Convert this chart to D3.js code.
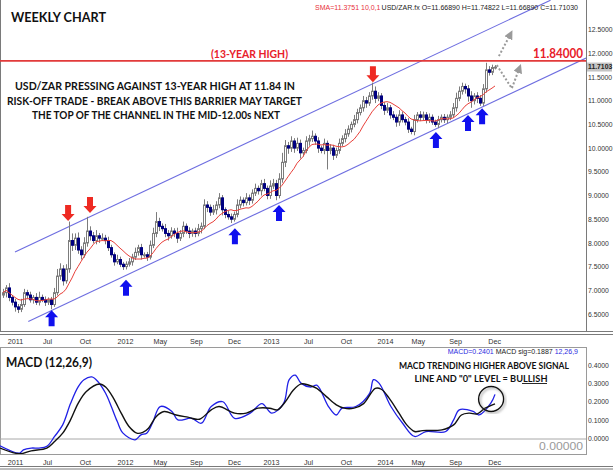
<!DOCTYPE html>
<html>
<head>
<meta charset="utf-8">
<script src="https://cdn.jsdelivr.net/npm/d3@7"></script>
<style>
  body { margin: 0; background: #fff; }
  svg { display: block; font-family: "Liberation Sans", Arial, sans-serif; }
</style>
</head>
<body>
<div id="chart"></div>
<script>
// weekly closes, one per bar (open = previous close)
const first_open = 6.90
const closes = [
  6.95, 7.05, 6.85, 6.75, 6.65, 6.60, 6.70, 6.95, 6.90, 6.80,
  6.85, 6.75, 6.85, 6.80, 6.75, 6.80, 6.70, 6.95, 7.30, 7.45,
  7.20, 7.45, 8.05, 7.95, 8.10, 7.85, 7.75, 8.00, 8.25, 8.15,
  8.05, 8.15, 8.10, 8.10, 8.05, 7.90, 7.75, 7.60, 7.65, 7.55,
  7.50, 7.55, 7.60, 7.70, 7.80, 7.90, 7.75, 7.75, 7.70, 7.95,
  8.20, 8.45, 8.35, 8.30, 8.20, 8.15, 8.25, 8.20, 8.10, 8.20,
  8.35, 8.25, 8.20, 8.25, 8.20, 8.30, 8.35, 8.80, 8.75, 8.65,
  8.70, 8.80, 8.95, 8.70, 8.60, 8.55, 8.50, 8.60, 8.80, 8.90,
  8.85, 8.95, 8.90, 9.05, 9.15, 9.10, 9.25, 9.15, 9.00, 9.20,
  9.25, 9.00, 9.35, 9.70, 10.05, 10.00, 10.15, 10.00, 10.10, 9.90,
  9.95, 10.15, 10.20, 10.25, 10.15, 10.00, 9.95, 10.10, 9.95, 10.00,
  9.85, 9.95, 10.10, 10.20, 10.30, 10.40, 10.50, 10.60, 10.75, 10.85,
  11.00, 10.95, 11.10, 11.20, 11.05, 11.10, 10.90, 10.80, 10.85, 10.70,
  10.65, 10.55, 10.70, 10.60, 10.55, 10.40, 10.35, 10.60, 10.70, 10.65,
  10.70, 10.60, 10.65, 10.55, 10.50, 10.60, 10.65, 10.60, 10.65, 10.70,
  10.85, 11.05, 11.20, 11.30, 11.25, 11.10, 11.00, 11.10, 11.05, 10.95,
  11.25, 11.65, 11.60, 11.70, 11.7103
]
// wick length above / below the body
const up_wick = [
  .08, .06, .10, .05, .07, .06, .12, .08, .06, .07,
  .05, .09, .12, .06, .07, .05, .06, .10, .15, .12,
  .08, .10, .40, .15, .10, .12, .08, .12, .30, .10,
  .08, .12, .06, .10, .07, .08, .06, .05, .10, .06,
  .05, .06, .08, .07, .10, .06, .08, .05, .06, .10,
  .12, .20, .08, .06, .10, .07, .08, .06, .12, .07,
  .10, .06, .08, .05, .07, .10, .08, .12, .08, .06,
  .10, .08, .10, .06, .05, .08, .07, .06, .12, .08,
  .06, .10, .07, .08, .10, .06, .08, .10, .06, .12,
  .10, .08, .12, .20, .12, .08, .10, .06, .12, .08,
  .06, .10, .08, .12, .06, .08, .05, .10, .06, .08,
  .07, .06, .10, .07, .10, .08, .06, .10, .08, .07,
  .10, .08, .08, .18, .10, .08, .06, .07, .10, .06,
  .08, .06, .10, .07, .06, .08, .05, .10, .06, .08,
  .07, .06, .08, .06, .05, .08, .06, .07, .06, .08,
  .10, .12, .10, .08, .06, .08, .10, .06, .08, .07,
  .10, .15, .08, .06, .04
]
const down_wick = [
  .06, .10, .08, .07, .10, .08, .06, .05, .08, .06,
  .08, .06, .07, .05, .08, .06, .10, .05, .06, .08,
  .10, .06, .08, .12, .10, .08, .10, .06, .08, .10,
  .06, .08, .10, .06, .08, .07, .06, .08, .05, .06,
  .07, .06, .05, .08, .06, .07, .10, .06, .08, .05,
  .06, .08, .10, .06, .08, .10, .06, .08, .10, .06,
  .08, .06, .10, .07, .08, .06, .10, .06, .10, .08,
  .06, .10, .07, .12, .08, .06, .08, .05, .06, .07,
  .08, .06, .10, .07, .06, .08, .10, .06, .08, .07,
  .06, .10, .06, .08, .10, .12, .08, .10, .06, .12,
  .08, .06, .10, .07, .08, .10, .06, .08, .40, .08,
  .10, .06, .07, .06, .08, .06, .07, .06, .08, .06,
  .08, .10, .06, .08, .10, .06, .08, .10, .06, .08,
  .06, .10, .08, .06, .07, .08, .06, .08, .06, .08,
  .06, .08, .07, .06, .05, .08, .06, .07, .08, .06,
  .06, .08, .06, .07, .10, .12, .15, .08, .10, .06,
  .06, .08, .07, .06, .04
]

const tick_bars = [4, 14.7, 27.3, 40.7, 52.3, 64.3, 77, 89.3, 101.7, 114.3, 127.3, 138.3, 150.7, 163.7]
const tick_labels = ["2011", "Jul", "Oct", "2012", "May", "Sep", "Dec", "2013", "Jul", "Oct", "2014", "May", "Sep", "Dec"]
const price_ticks = [6.5, 7, 7.5, 8, 8.5, 9, 9.5, 10, 10.5, 11, 11.5, 12, 12.5]

const resistance = 11.84
const last_price = 11.7103

// channel lines as [bar, price]
const channel_upper = [[4, 7.81], [182.5, 13.12]]
const channel_lower = [[8.43, 6.34], [194.33, 11.9]]

// arrow tips as [bar, price]
const down_arrows = [[21.7, 8.46], [29, 8.63], [123.3, 11.39]]
const up_arrows = [[16.2, 6.58], [41, 7.22], [77.3, 8.31], [92, 8.80], [144.3, 10.34], [155, 10.70], [159.7, 10.84]]
const path_breakout = [[165.3, 11.94], [168.7, 12.35]]
const path_retest = [[164.6, 11.75], [169.6, 11.26], [171.8, 11.63]]

// MACD (12,26,9)
const macd_bars = [-1, 5.5, 6.8, 9.4, 12, 14.6, 17.2, 19.9, 22.5, 25, 27, 29.6, 31.6, 34.2, 36.1, 38.1, 40, 44, 46, 47.9,
  49.8, 52.4, 56.3, 58.3, 62.9, 66.1, 69.4, 73.3, 77.2, 82.4, 86.3, 89.6, 93.5, 95.4, 97.4, 99.4, 102.6, 104.6, 108.5, 111.1,
  113, 117.6, 122.2, 123.5, 125.4, 129.3, 133.2, 137.2, 141, 147.6, 150.2, 152.1, 156.7, 158.7, 162.6, 164]
const macd_values = [-0.04, -0.08, -0.062, -0.052, -0.052, -0.043, 0.011, 0.074, 0.19, 0.28, 0.32, 0.335, 0.31, 0.246, 0.174, 0.092, 0.029, -0.007, 0.02, 0.029,
  0.083, 0.174, 0.147, 0.101, 0.11, 0.083, 0.174, 0.2, 0.11, 0.138, 0.19, 0.138, 0.19, 0.32, 0.345, 0.30, 0.28, 0.29, 0.174, 0.128,
  0.165, 0.174, 0.246, 0.32, 0.30, 0.174, 0.083, 0.011, 0.038, 0.038, 0.101, 0.156, 0.147, 0.128, 0.192, 0.2401]
const signal_bars = [-1, 5.5, 9.4, 14.6, 17.2, 19.9, 22.5, 25, 27.7, 32.2, 34.2, 36.8, 39.4, 42, 44.6, 46.6, 48.5, 51.1, 53.7, 57.7,
  61.6, 65.5, 69.4, 72, 77.2, 81.1, 85, 88.9, 91.5, 94.1, 96.8, 99.4, 102, 104.6, 107.8, 111.1, 113.7, 117, 120.2, 124.1,
  126.1, 128.7, 132, 134.6, 137.2, 139.8, 146.3, 150.2, 152.8, 155.4, 158.1, 160.7, 164]
const signal_values = [-0.052, -0.083, -0.067, -0.052, -0.016, 0.029, 0.101, 0.19, 0.255, 0.297, 0.28, 0.22, 0.138, 0.065, 0.029, 0.033, 0.056, 0.12, 0.147, 0.128,
  0.116, 0.105, 0.156, 0.174, 0.138, 0.138, 0.165, 0.165, 0.156, 0.2, 0.264, 0.297, 0.29, 0.273, 0.228, 0.183, 0.165, 0.165, 0.19, 0.273,
  0.268, 0.22, 0.138, 0.074, 0.038, 0.043, 0.047, 0.074, 0.128, 0.138, 0.134, 0.165, 0.1887]
const macd_ticks = [0, 0.1, 0.2, 0.3, 0.4]
const macd_circle = [162.7, 0.215]

const width = 613, height = 470
const axis_x = 586

const svg = d3.select("#chart").append("svg")
    .attr("width", width)
    .attr("height", height)

const x = d3.scaleLinear().domain([0, 194.33]).range([3, axis_x])
const y = d3.scaleLinear().domain([6.5, 12.5]).range([314, 29.6])
const y_macd = d3.scaleLinear().domain([0, 0.4]).range([438.5, 365])

const defs = svg.append("defs")
defs.append("clipPath").attr("id", "main-clip")
    .append("rect").attr("x", 0).attr("y", 0).attr("width", axis_x).attr("height", 331)
defs.append("clipPath").attr("id", "macd-clip")
    .append("rect").attr("x", 0).attr("y", 348).attr("width", axis_x).attr("height", 106)
defs.append("marker")
    .attr("id", "head")
    .attr("viewBox", "0 0 10 10")
    .attr("refX", 2).attr("refY", 5)
    .attr("markerWidth", 4.5).attr("markerHeight", 4.5)
    .attr("orient", "auto")
    .append("path").attr("d", "M0,0 L10,5 L0,10 Z").attr("fill", "#9a9a9a")
defs.append("filter").attr("id", "shadow")
    .append("feDropShadow").attr("dx", 1.5).attr("dy", 1.5).attr("stdDeviation", 1.2).attr("flood-color", "#888").attr("flood-opacity", 0.8)

// frames
const frame = svg.append("g").attr("stroke", "#7a7a7a").attr("stroke-width", 1).attr("fill", "none")
frame.append("path").attr("d", `M0.5,0 V331 M${axis_x + 0.5},0 V331`)
frame.append("path").attr("d", `M0,331.5 H${width} M0,334.5 H${width}`)
frame.append("path").attr("d", `M0.5,347.5 H${axis_x + 0.5} M0.5,347 V455 M${axis_x + 0.5},347 V455 M0,454.5 H${axis_x + 0.5}`).attr("stroke", "#9a9a9a")
frame.append("path").attr("d", `M0,466.5 H${width} M0,469 H${width}`)

// ---------- price panel ----------
const main = svg.append("g").attr("clip-path", "url(#main-clip)")

const line_xy = d3.line().x(d => x(d[0])).y(d => y(d[1]))

main.append("path").datum(channel_upper)
    .attr("d", line_xy).attr("stroke", "#6e6ee0").attr("stroke-width", 1.1).attr("fill", "none")
main.append("path").datum(channel_lower)
    .attr("d", line_xy).attr("stroke", "#6e6ee0").attr("stroke-width", 1.1).attr("fill", "none")

main.append("line")
    .attr("x1", 0).attr("x2", axis_x)
    .attr("y1", y(resistance)).attr("y2", y(resistance))
    .attr("stroke", "#e23a3a").attr("stroke-width", 1.6)

const candles = closes.map((close, i) => {
    const open = i === 0 ? first_open : closes[i - 1]
    return {
        i, open, close,
        high: Math.max(open, close) + up_wick[i],
        low: Math.min(open, close) - down_wick[i]
    }
})

const sma = closes.map((c, i) => [i, d3.mean(closes.slice(Math.max(0, i - 9), i + 1))])

const bars = main.append("g")
bars.selectAll("line")
    .data(candles)
    .join("line")
    .attr("x1", d => Math.round(x(d.i)) + 0.5)
    .attr("x2", d => Math.round(x(d.i)) + 0.5)
    .attr("y1", d => y(d.high))
    .attr("y2", d => y(d.low))
    .attr("stroke", "#7c7c7c")
bars.selectAll("rect")
    .data(candles)
    .join("rect")
    .attr("x", d => Math.round(x(d.i)) - 0.5)
    .attr("width", 2)
    .attr("y", d => y(Math.max(d.open, d.close)))
    .attr("height", d => Math.max(1, Math.abs(y(d.open) - y(d.close))))
    .attr("fill", d => d.close >= d.open ? "#ffffff" : "#000080")
    .attr("stroke", d => d.close >= d.open ? "#7c7c7c" : "#000080")

main.append("path").datum(sma)
    .attr("d", line_xy).attr("fill", "none").attr("stroke", "#e8403a").attr("stroke-width", 1)

// block arrows
const arrow_down = "M-3,-16 L3,-16 L3,-7 L6.5,-7 L0,0 L-6.5,-7 L-3,-7 Z"
const arrow_up = "M-3,16 L3,16 L3,7 L6.5,7 L0,0 L-6.5,7 L-3,7 Z"
main.selectAll(".down-arrow")
    .data(down_arrows)
    .join("path")
    .attr("class", "down-arrow")
    .attr("d", arrow_down)
    .attr("transform", d => `translate(${x(d[0])},${y(d[1])})`)
    .attr("fill", "#ee2a22")
main.selectAll(".up-arrow")
    .data(up_arrows)
    .join("path")
    .attr("class", "up-arrow")
    .attr("d", arrow_up)
    .attr("transform", d => `translate(${x(d[0])},${y(d[1])})`)
    .attr("fill", "#1010ee")

// dotted projection arrows
main.append("path").datum(path_breakout)
    .attr("d", line_xy).attr("fill", "none").attr("stroke", "#9a9a9a").attr("stroke-width", 2)
    .attr("stroke-dasharray", "2,2").attr("marker-end", "url(#head)")
main.append("path").datum(path_retest)
    .attr("d", line_xy).attr("fill", "none").attr("stroke", "#9a9a9a").attr("stroke-width", 2)
    .attr("stroke-dasharray", "2,2").attr("marker-end", "url(#head)")

// price axis
const axis_font = (g) => g.selectAll("text")
    .attr("font-size", "6.8px").attr("fill", "#333").attr("font-family", "Liberation Sans, Arial")

const price_axis = svg.append("g")
    .attr("transform", `translate(${axis_x}, 0)`)
    .call(d3.axisRight(y).tickValues(price_ticks).tickFormat(d3.format(".4f")).tickSize(0).tickPadding(2))
price_axis.select(".domain").remove()
price_axis.call(axis_font)

svg.append("rect")
    .attr("x", axis_x + 1).attr("y", y(last_price) - 4.5)
    .attr("width", 25).attr("height", 9)
    .attr("fill", "#c4c4c4")
svg.append("text")
    .attr("x", axis_x + 2).attr("y", y(last_price)).attr("dy", "0.32em")
    .attr("font-size", "6.8px").attr("font-weight", "bold").attr("fill", "#222")
    .text(last_price.toFixed(4))

// time axes
const time_axis = (g) => {
    g.call(d3.axisBottom(x).tickValues(tick_bars).tickFormat((d, i) => tick_labels[i]).tickSize(0).tickPadding(2))
    g.select(".domain").remove()
    g.selectAll("text").attr("font-size", "7.2px").attr("fill", "#333").attr("font-family", "Liberation Sans, Arial")
}
svg.append("g").attr("transform", "translate(0, 337)").call(time_axis)
svg.append("g").attr("transform", "translate(0, 457.5)").call(time_axis)

// ---------- MACD panel ----------
const macd = svg.append("g").attr("clip-path", "url(#macd-clip)")
macd.append("line")
    .attr("x1", 0).attr("x2", axis_x)
    .attr("y1", y_macd(0) + 0.5).attr("y2", y_macd(0) + 0.5)
    .attr("stroke", "#a8a8a8")

const macd_line = d3.line()
    .x(d => x(d[0]))
    .y(d => y_macd(d[1]))
    .curve(d3.curveCatmullRom.alpha(0.5))

macd.append("path")
    .datum(macd_bars.map((b, i) => [b, macd_values[i]]))
    .attr("d", macd_line).attr("fill", "none").attr("stroke", "#2020e6").attr("stroke-width", 1.3)
macd.append("path")
    .datum(signal_bars.map((b, i) => [b, signal_values[i]]))
    .attr("d", macd_line).attr("fill", "none").attr("stroke", "#111").attr("stroke-width", 1.4)

svg.append("circle")
    .attr("cx", x(macd_circle[0])).attr("cy", y_macd(macd_circle[1])).attr("r", 12.5)
    .attr("fill", "none").attr("stroke", "#111").attr("stroke-width", 1.4)
    .attr("filter", "url(#shadow)")

const macd_axis = svg.append("g")
    .attr("transform", `translate(${axis_x}, 0)`)
    .call(d3.axisRight(y_macd).tickValues(macd_ticks).tickFormat(d3.format(".4f")).tickSize(0).tickPadding(2))
macd_axis.select(".domain").remove()
macd_axis.call(axis_font)

// ---------- texts ----------
const bold_font = "Lato, 'Open Sans', sans-serif"
const add_text = (txt, px, py, size, opts = {}) => {
    const t = svg.append("text")
        .attr("x", px).attr("y", py)
        .attr("font-size", size + "px")
        .attr("font-family", opts.family ?? bold_font)
        .attr("font-weight", opts.weight ?? "bold")
        .attr("fill", opts.fill ?? "#111")
        .attr("text-anchor", opts.anchor ?? "start")
        .text(txt)
    if (opts.len) t.attr("textLength", opts.len).attr("lengthAdjust", "spacingAndGlyphs")
    return t
}

add_text("WEEKLY CHART", 11, 22, 14, { len: 95 })
add_text("(13-YEAR HIGH)", 211, 57.5, 11, { fill: "#e8202a", len: 77 })
add_text("11.84000", 533, 57.5, 12.5, { fill: "#e8202a", len: 50 })

add_text("USD/ZAR PRESSING AGAINST 13-YEAR HIGH AT 11.84 IN", 15, 89.5, 10.5, { len: 280 })
add_text("RISK-OFF TRADE - BREAK ABOVE THIS BARRIER MAY TARGET", 7, 104.5, 10.5, { len: 295 })
add_text("THE TOP OF THE CHANNEL IN THE MID-12.00s NEXT", 32, 118.5, 10.5, { len: 248 })

svg.append("text")
    .attr("x", 315).attr("y", 9.5)
    .attr("font-size", "7px")
    .attr("font-family", "Liberation Sans, Arial")
    .attr("fill", "#e8303a")
    .text("SMA=11.3751  10,0,1")
svg.append("text")
    .attr("x", 578).attr("y", 9.5)
    .attr("text-anchor", "end")
    .attr("font-size", "7px")
    .attr("font-family", "Liberation Sans, Arial")
    .attr("fill", "#222")
    .text("USD/ZAR.fx O=11.66890 H=11.74822 L=11.66890 C=11.71030")

const macd_header = svg.append("text")
    .attr("x", 578).attr("y", 354)
    .attr("text-anchor", "end")
    .attr("font-size", "7px")
    .attr("font-family", "Liberation Sans, Arial")
macd_header.append("tspan").attr("fill", "#2a2ae0").text("MACD=0.2401 ")
macd_header.append("tspan").attr("fill", "#222").text("MACD sig=0.1887  ")
macd_header.append("tspan").attr("fill", "#2a2ae0").text("12,26,9")

add_text("MACD (12,26,9)", 6, 367, 13, { len: 86 })
add_text("MACD TRENDING HIGHER ABOVE SIGNAL", 484, 368.5, 8.5, { anchor: "middle", len: 170 })
add_text('LINE AND "0" LEVEL = BULLISH', 481, 382, 8.5, { anchor: "middle", len: 133 })
svg.append("line")
    .attr("x1", 522).attr("x2", 547).attr("y1", 383.5).attr("y2", 383.5)
    .attr("stroke", "#111").attr("stroke-width", 0.9)

add_text("0.00000", 583, 450, 11.5, { anchor: "end", weight: "normal", fill: "#9a9a9a", family: "Liberation Sans, Arial", len: 44 })
</script>
</body>
</html>
